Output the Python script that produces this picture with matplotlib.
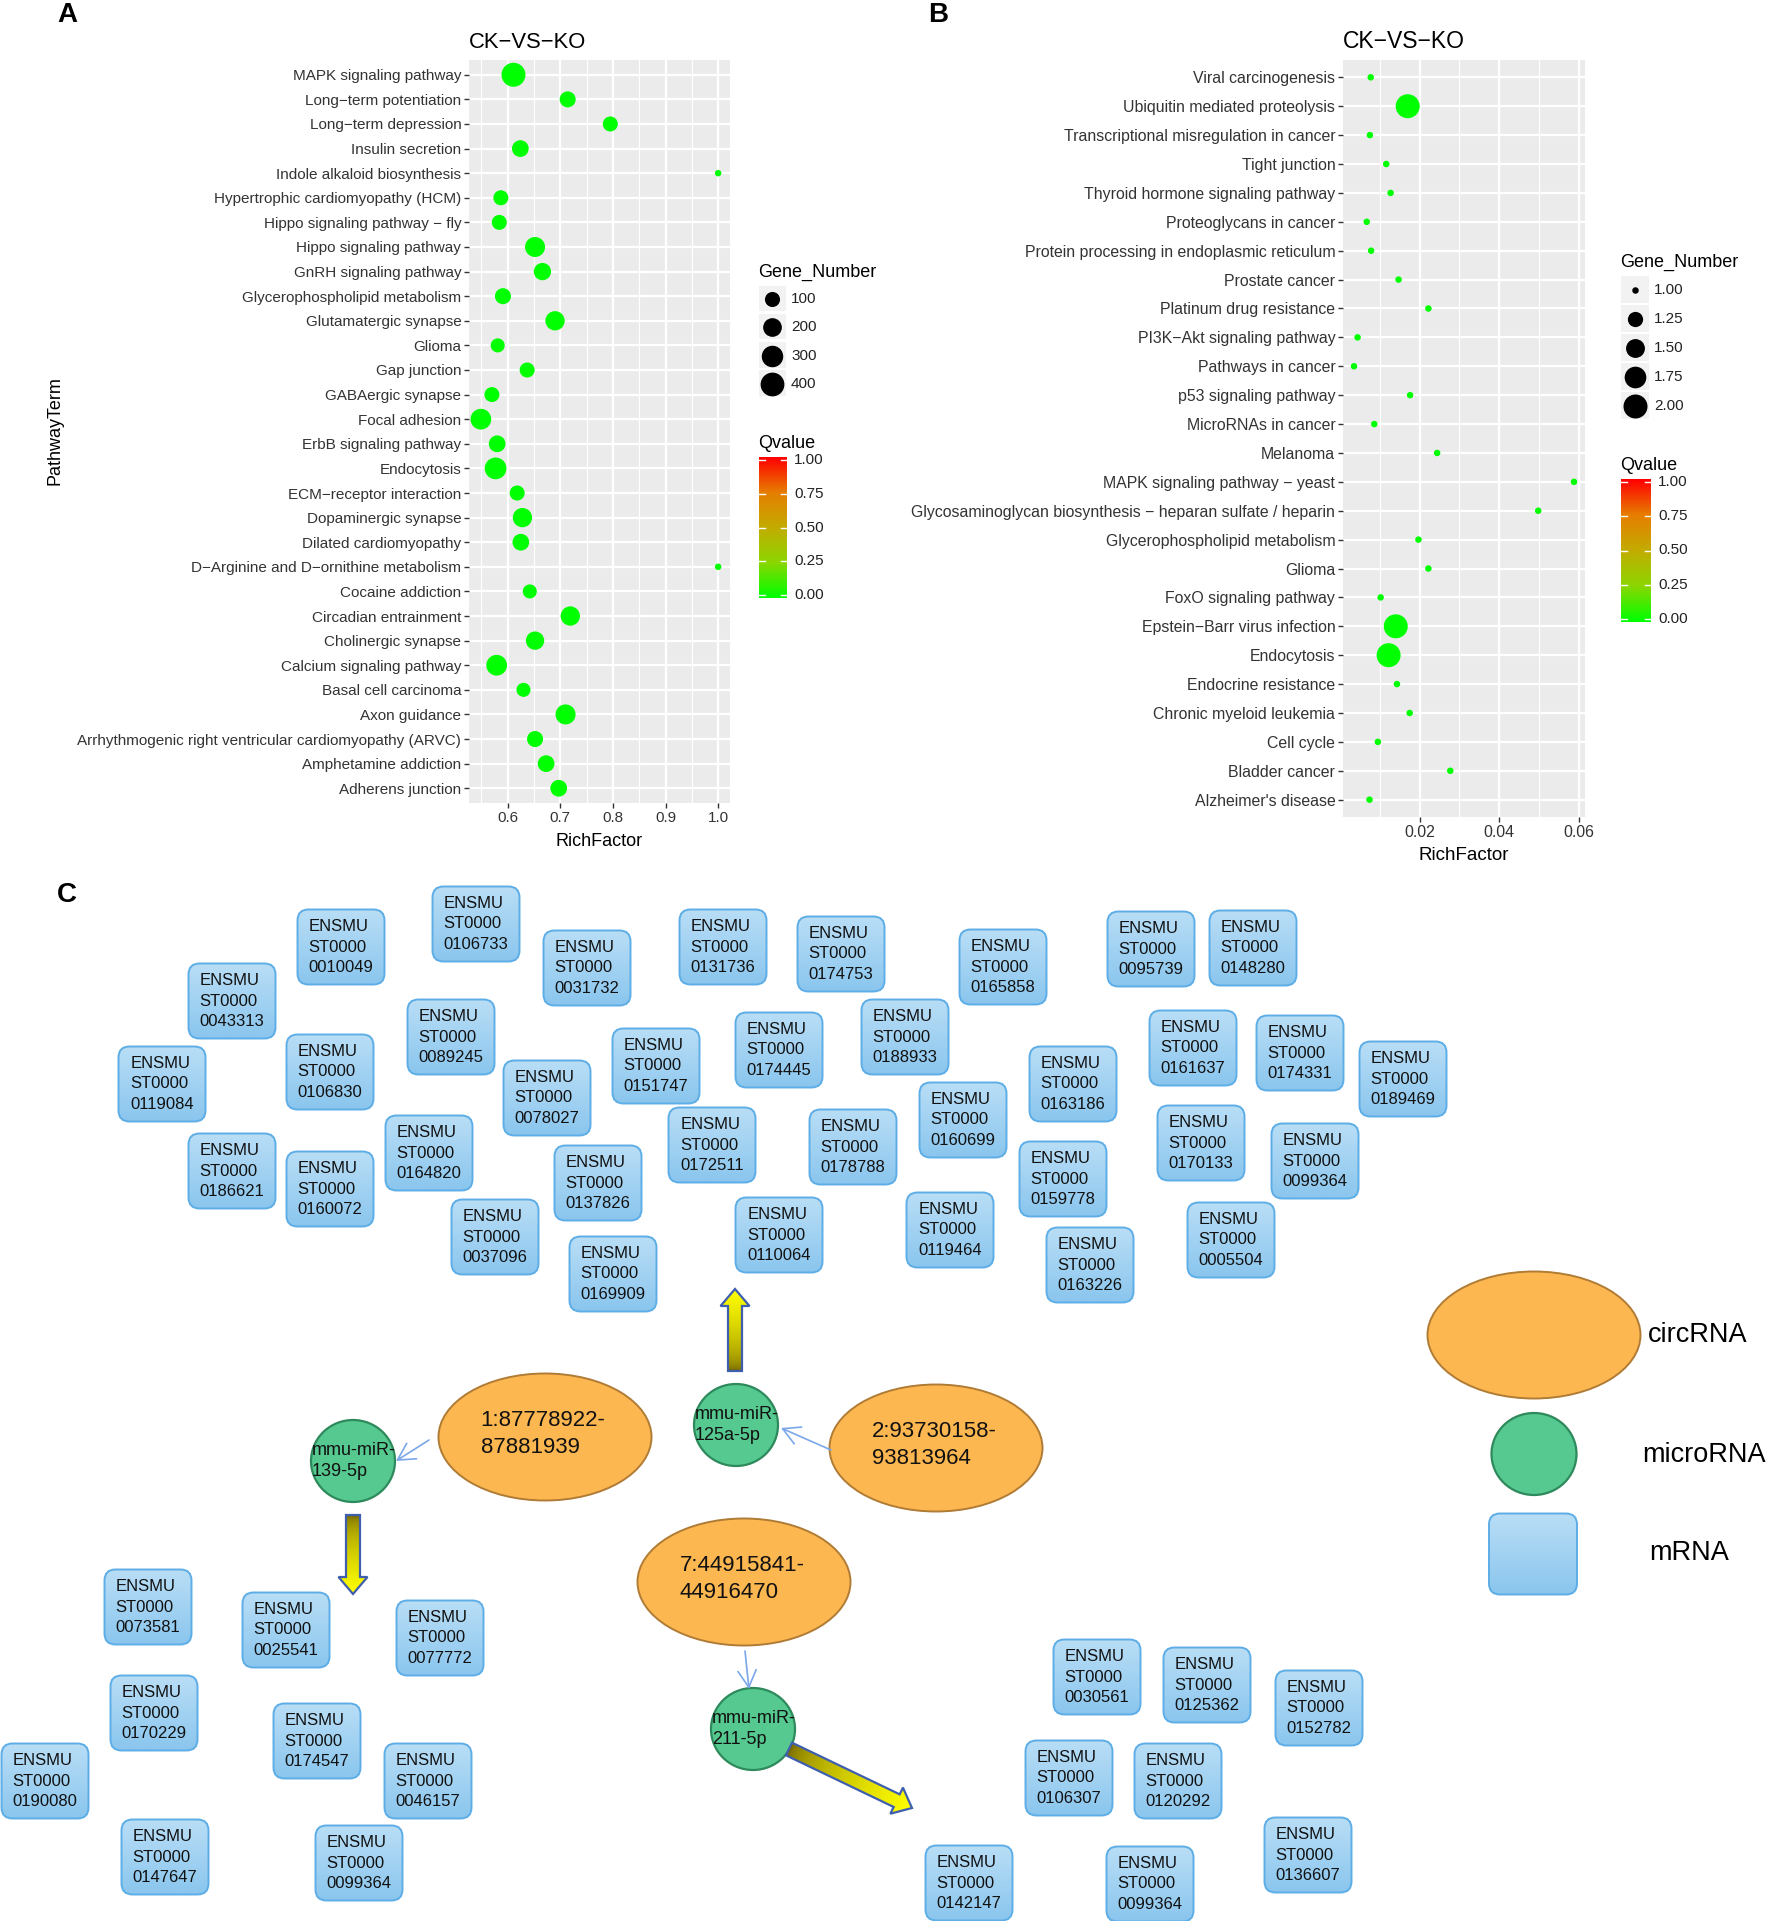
import numpy as np
import matplotlib
matplotlib.use('Agg')
import matplotlib.pyplot as plt
from matplotlib.colors import LinearSegmentedColormap, to_rgb
from matplotlib.patches import FancyBboxPatch, Ellipse, FancyArrow, Rectangle

plt.rcParams['font.family'] = ['Liberation Sans', 'DejaVu Sans']

# ---------------- panel A data (KEGG enrichment) ----------------
terms_a = ["MAPK signaling pathway", "Long−term potentiation", "Long−term depression",
           "Insulin secretion", "Indole alkaloid biosynthesis", "Hypertrophic cardiomyopathy (HCM)",
           "Hippo signaling pathway − fly", "Hippo signaling pathway", "GnRH signaling pathway",
           "Glycerophospholipid metabolism", "Glutamatergic synapse", "Glioma", "Gap junction",
           "GABAergic synapse", "Focal adhesion", "ErbB signaling pathway", "Endocytosis",
           "ECM−receptor interaction", "Dopaminergic synapse", "Dilated cardiomyopathy",
           "D−Arginine and D−ornithine metabolism", "Cocaine addiction", "Circadian entrainment",
           "Cholinergic synapse", "Calcium signaling pathway", "Basal cell carcinoma",
           "Axon guidance", "Arrhythmogenic right ventricular cardiomyopathy (ARVC)",
           "Amphetamine addiction", "Adherens junction"]
rich_a = [0.611, 0.714, 0.795, 0.624, 1.0, 0.587, 0.584, 0.652, 0.666, 0.591,
          0.690, 0.581, 0.637, 0.570, 0.549, 0.580, 0.577, 0.618, 0.628, 0.625,
          1.0, 0.642, 0.719, 0.652, 0.579, 0.630, 0.710, 0.652, 0.673, 0.697]
genes_a = [410, 122, 98, 141, 1, 98, 98, 245, 157, 122,
           220, 77, 98, 98, 271, 141, 310, 98, 220, 141,
           1, 77, 220, 188, 271, 77, 245, 122, 141, 141]
qval_a = [0.0, 0.0, 0.0, 0.0, 0.0, 0.0, 0.0, 0.0, 0.0, 0.0,
          0.0, 0.0, 0.0, 0.0, 0.0, 0.0, 0.0, 0.0, 0.0, 0.0,
          0.0, 0.0, 0.0, 0.0, 0.0, 0.0, 0.0, 0.0, 0.0, 0.0]

# ---------------- panel B data ----------------
terms_b = ["Viral carcinogenesis", "Ubiquitin mediated proteolysis",
           "Transcriptional misregulation in cancer", "Tight junction",
           "Thyroid hormone signaling pathway", "Proteoglycans in cancer",
           "Protein processing in endoplasmic reticulum", "Prostate cancer",
           "Platinum drug resistance", "PI3K−Akt signaling pathway", "Pathways in cancer",
           "p53 signaling pathway", "MicroRNAs in cancer", "Melanoma",
           "MAPK signaling pathway − yeast",
           "Glycosaminoglycan biosynthesis − heparan sulfate / heparin",
           "Glycerophospholipid metabolism", "Glioma", "FoxO signaling pathway",
           "Epstein−Barr virus infection", "Endocytosis", "Endocrine resistance",
           "Chronic myeloid leukemia", "Cell cycle", "Bladder cancer", "Alzheimer's disease"]
rich_b = [0.0077, 0.0170, 0.0075, 0.0116, 0.0127, 0.0067, 0.0078, 0.0147, 0.0222, 0.0044,
          0.0035, 0.0176, 0.0086, 0.0244, 0.0588, 0.0498, 0.0197, 0.0222, 0.0102, 0.0140,
          0.0122, 0.0143, 0.0175, 0.0095, 0.0277, 0.0074]
genes_b = [1, 2, 1, 1, 1, 1, 1, 1, 1, 1, 1, 1, 1, 1, 1, 1, 1, 1, 1, 2, 2, 1, 1, 1, 1, 1]
qval_b = [0.0, 0.0, 0.0, 0.0, 0.0, 0.0, 0.0, 0.0, 0.0, 0.0, 0.0, 0.0, 0.0,
          0.0, 0.0, 0.0, 0.0, 0.0, 0.0, 0.0, 0.0, 0.0, 0.0, 0.0, 0.0, 0.0]

gene_breaks_a = [100, 200, 300, 400]
gene_breaks_b = [1.00, 1.25, 1.50, 1.75, 2.00]
q_breaks = [0.00, 0.25, 0.50, 0.75, 1.00]

# ---------------- panel C data (circRNA-miRNA-mRNA network) ----------------
mrna_ids = ["0010049", "0106733", "0031732", "0131736", "0174753", "0165858", "0095739", "0148280",
            "0043313", "0089245", "0151747", "0174445", "0188933", "0161637", "0174331", "0189469",
            "0119084", "0106830", "0078027", "0163186", "0160699", "0172511", "0178788", "0164820",
            "0186621", "0160072", "0137826", "0170133", "0099364", "0159778", "0037096", "0110064",
            "0119464", "0163226", "0005504", "0169909",
            "0073581", "0025541", "0077772", "0170229", "0174547", "0046157", "0190080", "0147647",
            "0099364",
            "0030561", "0125362", "0152782", "0106307", "0120292", "0136607", "0142147", "0099364"]
mrna_x = [341, 476, 587, 723, 841, 1003, 1151, 1253,
          232, 451, 656, 779, 905, 1193, 1300, 1403,
          162, 330, 547, 1073, 963, 712, 853, 429,
          232, 330, 598, 1201, 1315, 1063, 495, 779,
          950, 1090, 1231, 613,
          148, 286, 440, 154, 317, 428, 45, 165, 359,
          1097, 1207, 1319, 1069, 1178, 1308, 969, 1150]
mrna_y = [947, 924, 968, 947, 954, 967, 949, 948,
          1001, 1037, 1066, 1050, 1037, 1048, 1053, 1079,
          1084, 1072, 1098, 1084, 1120, 1145, 1147, 1153,
          1171, 1189, 1183, 1143, 1161, 1179, 1237, 1235,
          1230, 1265, 1240, 1274,
          1607, 1630, 1638, 1713, 1741, 1781, 1781, 1857, 1863,
          1677, 1685, 1708, 1778, 1781, 1855, 1883, 1884]

circ_labels = ["1:87778922-\n87881939", "2:93730158-\n93813964", "7:44915841-\n44916470"]
circ_x = [545, 936, 744]
circ_y = [1437, 1448, 1582]
mir_labels = ["mmu-miR-\n139-5p", "mmu-miR-\n125a-5p", "mmu-miR-\n211-5p"]
mir_x = [353, 736, 753]
mir_y = [1461, 1425, 1729]
link_tail = [(429, 1440), (831, 1450), (745, 1651)]
link_tip = [(396, 1461), (781, 1428), (749, 1689)]
block_tail = [(353, 1515), (735, 1371), (789, 1749)]
block_tip = [(353, 1594), (735, 1289), (912, 1808)]

# ---------------- figure ----------------
W, H = 1772, 1921
fig = plt.figure(figsize=(W / 100, H / 100), dpi=100)
ov = fig.add_axes([0, 0, 1, 1])
ov.set_xlim(0, W)
ov.set_ylim(H, 0)
ov.axis('off')

qcmap = LinearSegmentedColormap.from_list(
    'q', ['#00FF00', '#8BD600', '#C3AC00', '#E67E00', '#FF0000'])


def dot_area(v, gmin, gmax):
    d_px = 6.5 + 17.5 * np.sqrt((np.asarray(v, float) - gmin) / (gmax - gmin))
    return (d_px * 0.72) ** 2


def dot_panel(box, terms, rich, genes, qvals, xticks, xfmt, xminor, fs):
    l, t, r, b = box
    ax = fig.add_axes([l / W, 1 - b / H, (r - l) / W, (b - t) / H])
    n = len(terms)
    ypos = np.arange(n, 0, -1)
    gmin, gmax = min(genes), max(genes)
    ax.scatter(rich, ypos, s=dot_area(genes, gmin, gmax), c=qvals, cmap=qcmap,
               vmin=0, vmax=1, linewidths=0, zorder=3)
    lo, hi = min(rich), max(rich)
    pad = 0.05 * (hi - lo)
    ax.set_xlim(lo - pad, hi + pad)
    ax.set_ylim(0.4, n + 0.6)
    ax.set_facecolor('#EBEBEB')
    for sp in ax.spines.values():
        sp.set_visible(False)
    ax.set_xticks(xticks)
    ax.set_xticklabels([xfmt.format(v) for v in xticks])
    ax.set_xticks(xminor, minor=True)
    ax.set_yticks(ypos)
    ax.set_yticklabels(terms)
    ax.grid(True, which='major', color='white', lw=1.6)
    ax.grid(True, which='minor', axis='x', color='white', lw=0.8)
    ax.set_axisbelow(True)
    ax.tick_params(which='major', length=3.5, width=1.0, color='#333333',
                   labelsize=fs, labelcolor='#333333', pad=2)
    ax.tick_params(which='minor', length=0)
    return gmin, gmax


def size_legend(x, y_title, y0, step, key_w, breaks, labels, gmin, gmax):
    ov.text(x, y_title, 'Gene_Number', fontsize=13, ha='left', va='center')
    for i, (bv, lab) in enumerate(zip(breaks, labels)):
        yy = y0 + i * step
        ov.add_patch(Rectangle((x + 1, yy - key_w / 2), key_w, key_w - 1.5,
                               facecolor='#F2F2F2', edgecolor='none'))
        ov.scatter([x + 1 + key_w / 2], [yy], s=dot_area(bv, gmin, gmax),
                   color='black', linewidths=0, zorder=3)
        ov.text(x + key_w + 6, yy, lab, fontsize=11, ha='left', va='center', color='#222222')


def q_bar(x, y_title, bar_l, bar_r, y_zero, y_one):
    ov.text(x, y_title, 'Qvalue', fontsize=13, ha='left', va='center')
    grad = np.linspace(1, 0, 200).reshape(-1, 1)
    ov.imshow(grad, cmap=qcmap, vmin=0, vmax=1, aspect='auto', origin='upper',
              extent=(bar_l, bar_r, y_zero + 3, y_one - 3), interpolation='bilinear', zorder=2)
    tw = (bar_r - bar_l) / 5
    for q in q_breaks:
        yy = y_zero - q * (y_zero - y_one)
        ov.plot([bar_l, bar_l + tw], [yy, yy], color='white', lw=1, zorder=3)
        ov.plot([bar_r - tw, bar_r], [yy, yy], color='white', lw=1, zorder=3)
        ov.text(bar_r + 7, yy, '{:.2f}'.format(q), fontsize=11, ha='left', va='center',
                color='#222222')


# panel A
box_a = (469, 60, 730, 803)
gmin_a, gmax_a = dot_panel(box_a, terms_a, rich_a, genes_a, qval_a,
                           [0.6, 0.7, 0.8, 0.9, 1.0], '{:.1f}',
                           [0.55, 0.65, 0.75, 0.85, 0.95], 11)
ov.text(box_a[0], 42, 'CK−VS−KO', fontsize=15.8, ha='left', va='center')
ov.text((box_a[0] + box_a[2]) / 2, 841, 'RichFactor', fontsize=13, ha='center', va='center')
ov.text(55, 431, 'PathwayTerm', fontsize=13, rotation=90, ha='center', va='center')
size_legend(758, 272, 299, 28.3, 27, gene_breaks_a, [str(v) for v in gene_breaks_a],
            gmin_a, gmax_a)
q_bar(758, 443, 759, 787, 595, 460)

# panel B
box_b = (1343, 60, 1585, 817)
gmin_b, gmax_b = dot_panel(box_b, terms_b, rich_b, genes_b, qval_b,
                           [0.02, 0.04, 0.06], '{:.2f}', [0.01, 0.03, 0.05], 11.4)
ov.text(box_b[0], 42, 'CK−VS−KO', fontsize=16.5, ha='left', va='center')
ov.text((box_b[0] + box_b[2]) / 2, 855, 'RichFactor', fontsize=13.5, ha='center', va='center')
size_legend(1620, 262, 290, 29, 28, gene_breaks_b, ['{:.2f}'.format(v) for v in gene_breaks_b],
            gmin_b, gmax_b)
q_bar(1620, 465, 1621, 1651, 619, 482)

# panel letters
for letter, lx, ly in [('A', 57, 15), ('B', 928, 15), ('C', 57, 895)]:
    ov.text(lx, ly, letter, fontsize=20, fontweight='bold', ha='left', va='center')


# ---------------- panel C ----------------
def vgrad(c_top, c_bot, n=32):
    a, b = np.array(to_rgb(c_top)), np.array(to_rgb(c_bot))
    t = np.linspace(0, 1, n)[:, None, None]
    return np.repeat(a + (b - a) * t, 2, axis=1)


def mrna_box(cx, cy, label, w=87, h=75):
    x0, y0 = cx - w / 2, cy - h / 2
    shape = FancyBboxPatch((x0, y0), w, h, boxstyle='round,pad=0,rounding_size=11',
                           facecolor='none', edgecolor='#5DADE6', lw=1.4, zorder=3)
    ov.add_patch(shape)
    im = ov.imshow(vgrad('#B9DEF6', '#8BC6EE'), extent=(x0, x0 + w, y0 + h, y0),
                   origin='upper', aspect='auto', interpolation='bilinear', zorder=2)
    im.set_clip_path(shape)
    if label:
        ov.text(cx, cy, label, ha='center', va='center', multialignment='left',
                fontsize=12, linespacing=1.42, color='#111111', zorder=4)


def block_arrow(p0, p1, shaft=14, head_w=29, head_l=17):
    dx, dy = p1[0] - p0[0], p1[1] - p0[1]
    arr = FancyArrow(p0[0], p0[1], dx, dy, width=shaft, head_width=head_w,
                     head_length=head_l, length_includes_head=True,
                     facecolor='none', edgecolor='#3F5FAE', lw=1.6, zorder=4)
    ov.add_patch(arr)
    xy = arr.get_xy()
    xmin, ymin = xy.min(axis=0)
    xmax, ymax = xy.max(axis=0)
    gx = np.linspace(xmin, xmax, 64)
    gy = np.linspace(ymin, ymax, 64)
    X, Y = np.meshgrid(gx, gy)
    tt = np.clip(((X - p0[0]) * dx + (Y - p0[1]) * dy) / (dx * dx + dy * dy), 0, 1) ** 0.5
    c0, c1 = np.array(to_rgb('#6E5E00')), np.array(to_rgb('#FFFF00'))
    img = c0 + (c1 - c0) * tt[..., None]
    im = ov.imshow(img, extent=(xmin, xmax, ymax, ymin), origin='upper', aspect='auto',
                   interpolation='bilinear', zorder=3)
    im.set_clip_path(arr)


for mid, mx, my in zip(mrna_ids, mrna_x, mrna_y):
    mrna_box(mx, my, 'ENSMU\nST0000\n' + mid)

for lab, cx, cy in zip(circ_labels, circ_x, circ_y):
    ov.add_patch(Ellipse((cx, cy), 213, 127, facecolor='#FDB751', edgecolor='#B07C35',
                         lw=1.4, zorder=3))
    ov.text(cx - 2, cy - 3, lab, ha='center', va='center', multialignment='left',
            fontsize=16, linespacing=1.4, color='#111111', zorder=4)

for lab, cx, cy in zip(mir_labels, mir_x, mir_y):
    ov.add_patch(Ellipse((cx, cy), 84, 82, facecolor='#55C98F', edgecolor='#2E8A5C',
                         lw=1.6, zorder=3))
    ov.text(cx - 41, cy, lab, ha='left', va='center', fontsize=13, linespacing=1.3,
            color='#111111', zorder=4)

for tail, tip in zip(link_tail, link_tip):
    ov.annotate('', xy=tip, xytext=tail,
                arrowprops=dict(arrowstyle='->,head_length=0.55,head_width=0.3',
                                color='#7BA7EA', lw=1.2, shrinkA=0, shrinkB=0,
                                mutation_scale=22), zorder=5)

for tail, tip in zip(block_tail, block_tip):
    block_arrow(tail, tip)

# node-type legend
ov.add_patch(Ellipse((1534, 1335), 213, 127, facecolor='#FDB751', edgecolor='#B07C35',
                     lw=1.4, zorder=3))
ov.add_patch(Ellipse((1534, 1454), 85, 82, facecolor='#55C98F', edgecolor='#2E8A5C',
                     lw=1.6, zorder=3))
mrna_box(1533, 1554, '', w=88, h=81)
ov.text(1648, 1335, 'circRNA', fontsize=19.5, ha='left', va='center')
ov.text(1642, 1455, 'microRNA', fontsize=19.5, ha='left', va='center')
ov.text(1649, 1553, 'mRNA', fontsize=19.5, ha='left', va='center')

ov.set_xlim(0, W)
ov.set_ylim(H, 0)
fig.savefig('out.png', dpi=100)
